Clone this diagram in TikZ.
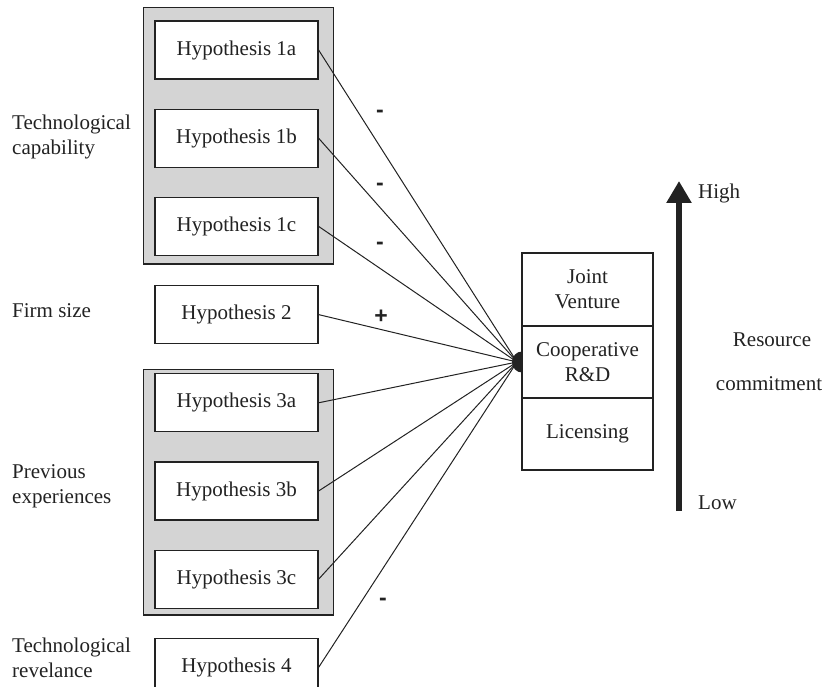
\documentclass[tikz,border=0pt]{standalone}
\usepackage{fontspec}
\setmainfont{Liberation Serif}
\newfontfamily\signfont{Liberation Sans}
\usetikzlibrary{arrows.meta, positioning, calc, backgrounds}
\definecolor{groupgray}{HTML}{D4D4D4}
\definecolor{linegray}{HTML}{222222}

\begin{document}
\begin{tikzpicture}[x=1pt, y=-1pt,
    every node/.style={font=\fontsize{21}{25}\selectfont, text=linegray},
    hypbox/.style={
        draw=linegray,
        line width=1.2pt,
        fill=white,
        minimum width=163pt,
        minimum height=58pt,
        inner sep=0pt},
    modebox/.style={
        draw=linegray,
        line width=1.2pt,
        fill=white,
        outer sep=0pt,
        minimum width=131pt,
        minimum height=72pt,
        align=center,
        inner sep=0pt},
    groupbox/.style={draw=linegray, line width=1.4pt, fill=groupgray},
    sidelabel/.style={anchor=west, align=left, inner sep=0pt},
    sign/.style={font=\signfont\bfseries\fontsize{23}{23}\selectfont, inner sep=0pt},
    link/.style={draw=linegray, line width=1pt}]
    \useasboundingbox (0,0) rectangle (827,687);
    % hypotheses
    \node[hypbox] (h1a) at (236.5,50) {Hypothesis 1a};
    \node[hypbox, below=29pt of h1a] (h1b) {Hypothesis 1b};
    \node[hypbox, below=29pt of h1b] (h1c) {Hypothesis 1c};
    \node[hypbox, below=29pt of h1c] (h2) {Hypothesis 2};
    \node[hypbox, below=29pt of h2] (h3a) {Hypothesis 3a};
    \node[hypbox, below=29pt of h3a] (h3b) {Hypothesis 3b};
    \node[hypbox, below=29pt of h3b] (h3c) {Hypothesis 3c};
    \node[hypbox, below=29pt of h3c] (h4) {Hypothesis 4};
    \begin{scope}[on background layer]
        \draw[groupbox] ($(h1a.north west)+(-11,-13)$) rectangle ($(h1c.south east)+(15,8)$);
        \draw[groupbox] ($(h3a.north west)+(-11,-4)$) rectangle ($(h3c.south east)+(15,6)$);
    \end{scope}
    % constructs
    \node[sidelabel] (lblcap) at (12,137) {Technological\\capability};
    \node[sidelabel] (lblsize) at (12,311) {Firm size};
    \node[sidelabel] (lblexp) at (12,486) {Previous\\experiences};
    \node[sidelabel] (lblrel) at (12,658) {Technological\\revelance};
    % links
    \coordinate (fp) at (517,362);
    \foreach \h in {h1a,h1b,h1c,h2,h3a,h3b,h3c,h4}
        \draw[link] (\h.east) -- (fp);
    \fill[linegray] (522,362) ellipse [x radius=10, y radius=10.5];
    \node[sign] (s1a) at (380,114) {-};
    \node[sign] (s1b) at (380,187) {-};
    \node[sign] (s1c) at (380,246) {-};
    \node[sign] (s2) at (381,317) {+};
    \node[sign] (s4) at (383,602) {-};
    % entry modes
    \node[modebox, minimum height=73pt] (jv) at (587.5,289.5) {Joint\\Venture};
    \node[modebox, below=0pt of jv] (crd) {Cooperative\\R\&D};
    \node[modebox, below=0pt of crd] (lic) {Licensing};
    % resource commitment
    \coordinate (low) at (679,511);
    \coordinate (high) at (679,181);
    \draw[linegray, line width=6pt, -{Triangle[width=24pt,length=22pt]}] (low) -- (high);
    \node[sidelabel] (hi) at (698,193) {High};
    \node[sidelabel] (lo) at (698,503) {Low};
    \node (res) at (772,340) {Resource};
    \node (com) at (769,384) {commitment};
\end{tikzpicture}
\end{document}
